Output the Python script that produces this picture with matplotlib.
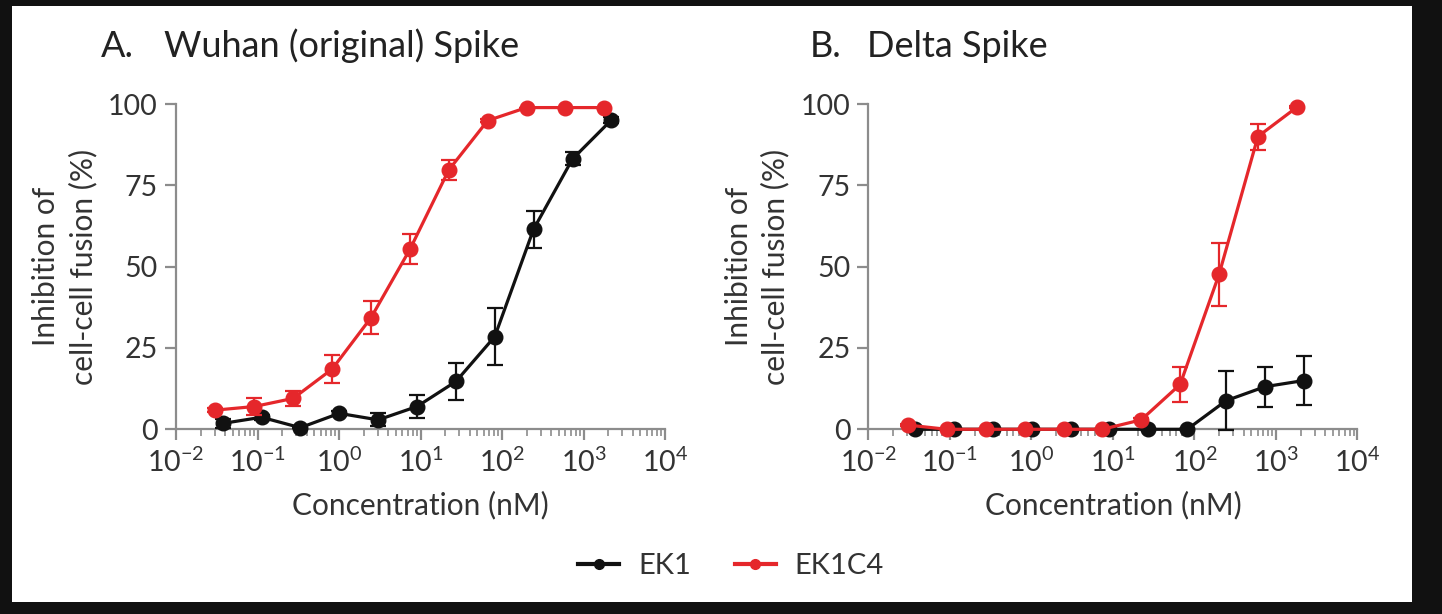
import matplotlib
matplotlib.use("Agg")
import matplotlib.pyplot as plt
from matplotlib.patches import Rectangle
from matplotlib.lines import Line2D
from matplotlib.ticker import LogLocator, NullFormatter, FixedLocator

plt.rcParams['font.family'] = ['Lato', 'DejaVu Sans']
plt.rcParams['mathtext.fontset'] = 'custom'
plt.rcParams['mathtext.rm'] = 'Lato'
plt.rcParams['mathtext.it'] = 'Lato:italic'
plt.rcParams['mathtext.bf'] = 'Lato:bold'

# ---------------- data ----------------
conc_ek1 = [0.0373, 0.112, 0.335, 1.006, 3.02, 9.05, 27.2, 81.5, 244, 733, 2200]
conc_ek1c4 = [0.0305, 0.0914, 0.274, 0.823, 2.47, 7.41, 22.2, 66.7, 200, 600, 1800]

wuhan_ek1 = [1.8, 3.7, 0.5, 4.9, 2.9, 7.0, 14.7, 28.5, 61.5, 83.1, 95.1]
wuhan_ek1_err = [1.5, 0.8, 0.0, 0.8, 2.0, 3.6, 5.7, 8.8, 5.7, 2.0, 0.8]
wuhan_ek1c4 = [5.9, 7.0, 9.5, 18.5, 34.3, 55.3, 79.7, 94.9, 98.9, 98.9, 98.9]
wuhan_ek1c4_err = [0.5, 2.5, 2.2, 4.2, 5.0, 4.6, 3.0, 0.5, 0.0, 0.0, 0.0]

delta_ek1 = [0.0, 0.0, 0.0, 0.0, 0.0, 0.0, 0.0, 0.0, 8.8, 13.1, 15.0]
delta_ek1_err = [0.0, 0.0, 0.0, 0.0, 0.0, 0.0, 0.0, 0.0, 9.0, 6.2, 7.4]
delta_ek1c4 = [1.3, 0.0, 0.0, 0.0, 0.0, 0.0, 2.9, 13.8, 47.6, 90.0, 99.0]
delta_ek1c4_err = [0.3, 0.0, 0.0, 0.0, 0.0, 0.0, 0.5, 5.5, 9.6, 4.0, 0.3]

panel_letters = ["A.", "B."]
panel_titles = ["Wuhan (original) Spike", "Delta Spike"]
series_names = ["EK1", "EK1C4"]
y_ticks = [0, 25, 50, 75, 100]
x_ticks = [1e-2, 1e-1, 1e0, 1e1, 1e2, 1e3, 1e4]
x_tick_labels = [r"$10^{-2}$", r"$10^{-1}$", r"$10^{0}$", r"$10^{1}$",
                 r"$10^{2}$", r"$10^{3}$", r"$10^{4}$"]

BLACK = "#111111"
RED = "#e5272b"
AXC = "#8c8c8c"
TXT = "#333333"

W, H = 1442, 614
fig = plt.figure(figsize=(W / 100, H / 100), dpi=100, facecolor="#111111")
fig.add_artist(Rectangle((12 / W, 1 - 602 / H), 1400 / W, 596 / H,
                         transform=fig.transFigure, facecolor="white",
                         edgecolor="none", zorder=0))

ax_lefts = [176, 868.5]
ax_width = 489
ax_top, ax_bot = 104, 429.3

panels = [
    (wuhan_ek1, wuhan_ek1_err, wuhan_ek1c4, wuhan_ek1c4_err),
    (delta_ek1, delta_ek1_err, delta_ek1c4, delta_ek1c4_err),
]

title_x = [(101, 164), (810, 867)]

for i, (e1, e1e, e4, e4e) in enumerate(panels):
    ax = fig.add_axes([ax_lefts[i] / W, 1 - ax_bot / H, ax_width / W,
                       (ax_bot - ax_top) / H])
    ax.set_facecolor("none")
    ax.set_xscale("log")
    ax.set_xlim(1e-2, 1e4)
    ax.set_ylim(0, 100)

    ax.errorbar(conc_ek1, e1, yerr=e1e, color=BLACK, lw=2.3, marker="o",
                ms=10.5, capsize=6, elinewidth=1.6, capthick=1.6,
                clip_on=False, zorder=3)
    ax.errorbar(conc_ek1c4, e4, yerr=e4e, color=RED, lw=2.3, marker="o",
                ms=10.5, capsize=6, elinewidth=1.6, capthick=1.6,
                clip_on=False, zorder=4)

    for s in ["top", "right"]:
        ax.spines[s].set_visible(False)
    for s in ["left", "bottom"]:
        ax.spines[s].set_color(AXC)
        ax.spines[s].set_linewidth(1.6)

    ax.xaxis.set_major_locator(FixedLocator(x_ticks))
    ax.set_xticklabels(x_tick_labels)
    ax.xaxis.set_minor_locator(LogLocator(base=10, subs=range(2, 10), numticks=20))
    ax.xaxis.set_minor_formatter(NullFormatter())
    ax.set_yticks(y_ticks)
    ax.set_yticklabels([str(v) for v in y_ticks])

    ax.tick_params(axis="both", which="major", colors=AXC, labelcolor=TXT,
                   labelsize=20.5, width=1.6, length=8, pad=5)
    ax.tick_params(axis="x", which="minor", colors=AXC, width=1.2, length=5)

    ax.set_xlabel("Concentration (nM)", fontsize=21.5, color=TXT, labelpad=10)
    ax.set_ylabel("Inhibition of\ncell-cell fusion (%)", fontsize=21.5,
                  color=TXT, labelpad=8, linespacing=1.35)

    fig.text(title_x[i][0] / W, 1 - 57 / H, panel_letters[i], fontsize=26,
             color="#222222", va="baseline", ha="left")
    fig.text(title_x[i][1] / W, 1 - 57 / H, panel_titles[i], fontsize=26,
             color="#222222", va="baseline", ha="left")

handles = [
    Line2D([], [], color=BLACK, lw=3, marker="o", ms=7),
    Line2D([], [], color=RED, lw=3, marker="o", ms=7),
]
fig.legend(handles, series_names, loc="center", bbox_to_anchor=(731 / W, 1 - 566 / H),
           ncol=2, frameon=False, fontsize=21, handlelength=1.4,
           handletextpad=0.65, columnspacing=1.5, labelcolor=TXT)

fig.savefig("out.png", dpi=100, facecolor=fig.get_facecolor())
